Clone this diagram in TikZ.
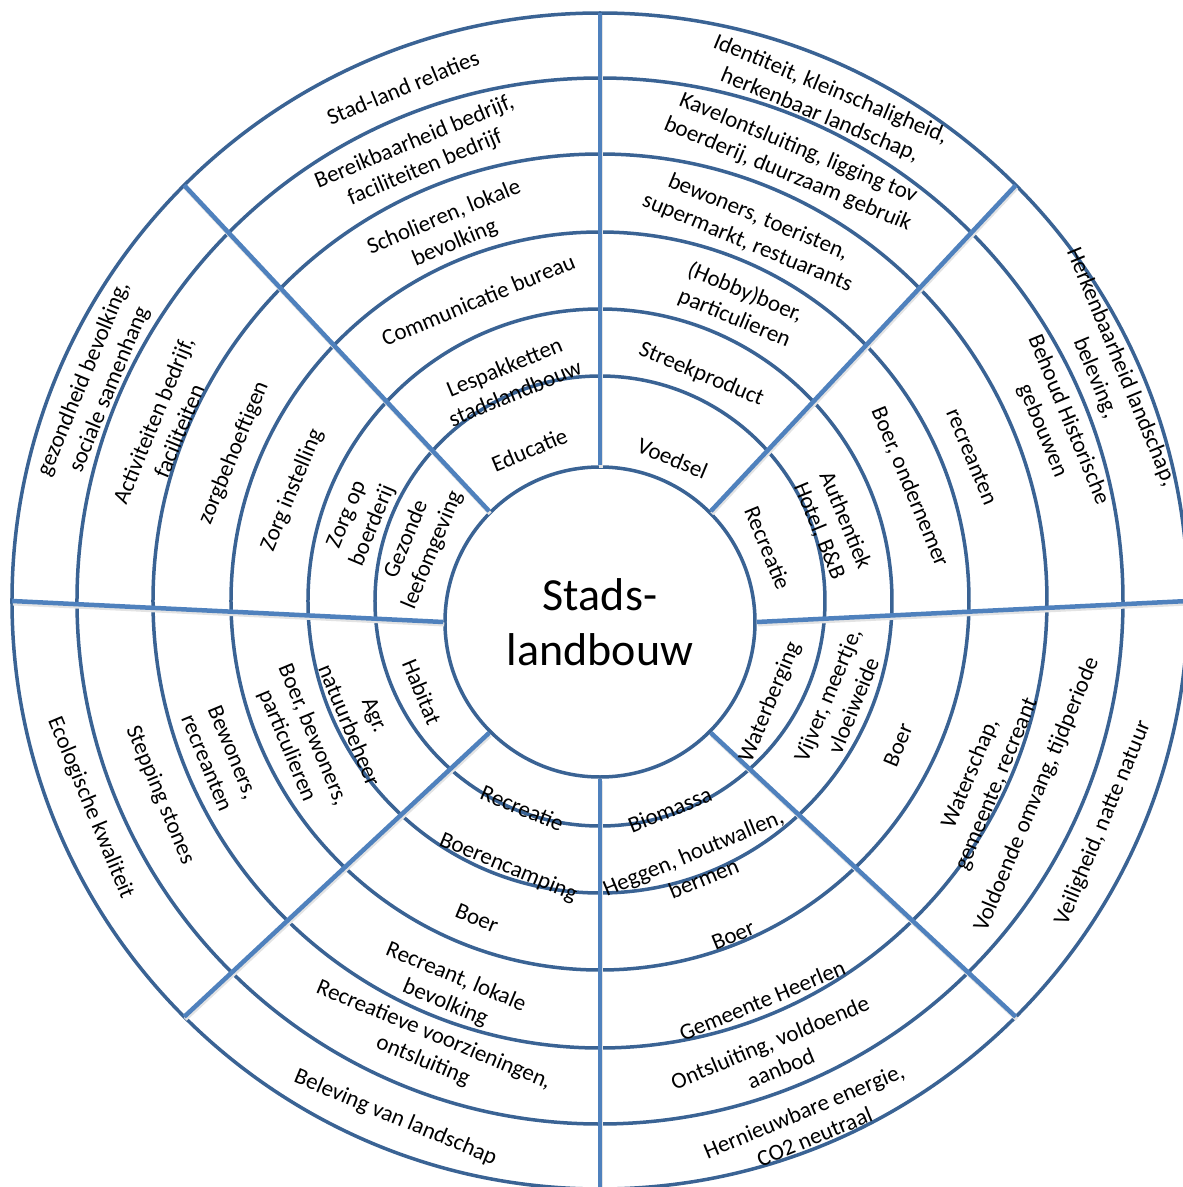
\documentclass[tikz,border=0pt]{standalone}
\usepackage{fontspec}
\setmainfont{Carlito}
\definecolor{ringblue}{HTML}{3A6394}
\definecolor{spokeblue}{HTML}{4F81BD}

\begin{document}
\begin{tikzpicture}[x=1pt,y=1pt,
	ring/.style={draw=ringblue,line width=3.5pt},
	spoke/.style={draw=spokeblue,line width=4.5pt},
	spokeshade/.style={draw=black!11,line width=4pt},
	hubstyle/.style={circle,draw=ringblue,line width=3.5pt,fill=white,minimum size=310pt,inner sep=0pt,align=center,font=\fontsize{46}{55}\selectfont},
	lbl/.style={align=center,inner sep=0pt,font=\fontsize{23}{28}\selectfont}]
				\useasboundingbox (-600,-586) rectangle (583,601);
				\fill[white] (-600,-586) rectangle (583,601);

				% Rings
				\foreach \r in {225,292,369,447,523,588}
					\draw[ring] (0,0) circle (\r);

				% Centre
				\node[hubstyle] (hub) at (0,-21) {Stads-\\landbouw};

				% Spokes
				\foreach \a in {0,45,...,315} {
					\draw[spokeshade] ([shift={(1,-2.5)}]\a:588) -- ([shift={(1,-2.5)}]hub.\a);
					\draw[spoke] (\a:588) -- (hub.\a);
				}

				% Voedsel
				\node[lbl,rotate=-22.5] (vd1) at (63:160) {Voedsel};
				\node[lbl,rotate=-22.5] (vd2) at (65.9:248) {Streekproduct};
				\node[lbl,rotate=-22.5] (vd3) at (64.7:327) {(Hobby)boer,\\particulieren};
				\node[lbl,rotate=-22.5] (vd4) at (67.6:401) {bewoners, toeristen,\\supermarkt, restuarants};
				\node[lbl,rotate=-22.5] (vd5) at (66.3:480) {Kavelontsluiting, ligging tov\\boerderij, duurzaam gebruik};
				\node[lbl,rotate=-22.5] (vd6) at (65.7:547) {Identiteit, kleinschaligheid,\\herkenbaar landschap,};

				% Recreatie
				\node[lbl,rotate=-67.5] (rc1) at (17.5:176) {Recreatie};
				\node[lbl,rotate=-67.5] (rc2) at (18:244) {Authentiek\\Hotel, B\&B};
				\node[lbl,rotate=-67.5] (rc3) at (20.2:330) {Boer, ondernemer};
				\node[lbl,rotate=-67.5] (rc4) at (21.2:399) {recreanten};
				\node[lbl,rotate=-67.5] (rc5) at (21.1:488) {Behoud Historische\\gebouwen};
				\node[lbl,rotate=-67.5] (rc6) at (24.2:557) {Herkenbaarheid landschap,\\beleving,};

				% Waterberging
				\node[lbl,rotate=67.5] (wb1) at (-30.7:198) {Waterberging};
				\node[lbl,rotate=67.5] (wb2) at (-22.4:260) {Vijver, meertje,\\vloeiweide};
				\node[lbl,rotate=67.5] (wb3) at (-25.8:331) {Boer};
				\node[lbl,rotate=67.5] (wb4) at (-24.9:423) {Waterschap,\\gemeente, recreant};
				\node[lbl,rotate=67.5] (wb5) at (-23.9:478) {Voldoende omvang, tijdperiode};
				\node[lbl,rotate=67.5] (wb6) at (-23.8:550) {Veiligheid, natte natuur};

				% Biomassa
				\node[lbl,rotate=22.5] (bm1) at (-71.5:220) {Biomassa};
				\node[lbl,rotate=22.5] (bm2) at (-69.6:282) {Heggen, houtwallen,\\bermen};
				\node[lbl,rotate=22.5] (bm3) at (-68.3:360) {Boer};
				\node[lbl,rotate=22.5] (bm4) at (-67.9:431) {Gemeente Heerlen};
				\node[lbl,rotate=22.5] (bm5) at (-68.9:487) {Ontsluiting, voldoende\\aanbod};
				\node[lbl,rotate=22.5] (bm6) at (-68.2:563) {Hernieuwbare energie,\\CO2 neutraal};

				% Recreatie (camping)
				\node[lbl,rotate=-22.5] (rk1) at (-110.6:221) {Recreatie};
				\node[lbl,rotate=-22.5] (rk2) at (-109:282) {Boerencamping};
				\node[lbl,rotate=-22.5] (rk3) at (-111.2:340) {Boer};
				\node[lbl,rotate=-22.5] (rk4) at (-111:417) {Recreant, lokale\\bevolking};
				\node[lbl,rotate=-22.5] (rk5) at (-111:479) {Recreatieve voorzieningen,\\ontsluiting};
				\node[lbl,rotate=-22.5] (rk6) at (-111.6:556) {Beleving van landschap};

				% Habitat
				\node[lbl,rotate=-67.5] (hb1) at (-152.9:200) {Habitat};
				\node[lbl,rotate=-67.5] (hb2) at (-153.4:266) {Agr.\\natuurbeheer};
				\node[lbl,rotate=-67.5] (hb3) at (-155.1:331) {Boer, bewoners,\\particulieren};
				\node[lbl,rotate=-67.5] (hb4) at (-157.6:411) {Bewoners,\\recreanten};
				\node[lbl,rotate=-67.5] (hb5) at (-156.2:481) {Stepping stones};
				\node[lbl,rotate=-67.5] (hb6) at (-157.9:550) {Ecologische kwaliteit};

				% Gezonde leefomgeving
				\node[lbl,rotate=67.5] (gz1) at (162.7:189) {Gezonde\\leefomgeving};
				\node[lbl,rotate=67.5] (gz2) at (161.4:253) {Zorg op\\boerderij};
				\node[lbl,rotate=67.5] (gz3) at (160.2:327) {Zorg instelling};
				\node[lbl,rotate=67.5] (gz4) at (158:395) {zorgbehoeftigen};
				\node[lbl,rotate=67.5] (gz5) at (158:468) {Activiteiten bedrijf,\\faciliteiten};
				\node[lbl,rotate=67.5] (gz6) at (156.7:548) {gezondheid bevolking,\\sociale samenhang};

				% Educatie
				\node[lbl,rotate=22.5] (ed1) at (115:167) {Educatie};
				\node[lbl,rotate=22.5] (ed2) at (112.2:239) {Lespakketten\\stadslandbouw};
				\node[lbl,rotate=22.5] (ed3) at (112:325) {Communicatie bureau};
				\node[lbl,rotate=22.5] (ed4) at (112.1:400) {Scholieren, lokale\\bevolking};
				\node[lbl,rotate=22.5] (ed5) at (112:481) {Bereikbaarheid bedrijf,\\faciliteiten bedrijf};
				\node[lbl,rotate=22.5] (ed6) at (111:550) {Stad-land relaties};
			\end{tikzpicture}
\end{document}
